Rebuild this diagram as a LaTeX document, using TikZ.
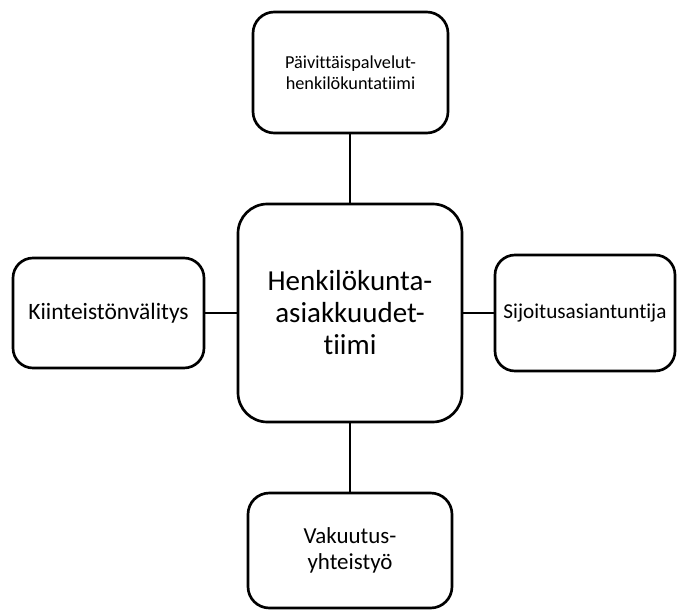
\documentclass[tikz,border=0pt]{standalone}
\usepackage{fontspec}
\setmainfont{Carlito}[Ligatures=NoCommon]
\begin{document}
\begin{tikzpicture}[x=0.75pt,y=-0.75pt,
  box/.style={draw=black,line width=2pt,fill=white,rounded corners=16pt,align=center,inner sep=0pt},
  link/.style={draw=black,line width=1.7pt}]
\useasboundingbox (0,0) rectangle (677,610);
\node[box,minimum width=146.25pt,minimum height=90.75pt,font=\fontsize{13.7}{15.5}\selectfont] (top) at (350.5,72.5) {Päivittäispalvelut-\\henkilökuntatiimi};
\node[box,rounded corners=22pt,minimum width=168pt,minimum height=163.5pt,font=\fontsize{21.75}{24}\selectfont] (mid) at (350,313) {Henkilökunta-\\asiakkuudet-\\tiimi};
\node[box,rounded corners=15pt,minimum width=143.25pt,minimum height=82.5pt,font=\fontsize{17.6}{20}\selectfont] (left) at (108.5,313) {Kiinteistönvälitys};
\node[box,rounded corners=15pt,minimum width=135pt,minimum height=87pt,font=\fontsize{15.9}{19}\selectfont] (right) at (585,313) {Sijoitusasiantuntija};
\node[box,minimum width=153pt,minimum height=86.25pt,font=\fontsize{17.2}{20}\selectfont] (bot) at (350,550.5) {Vakuutus-\\yhteistyö};
\draw[link] (mid.north) -- (mid.north |- top.south);
\draw[link] (mid.south) -- (mid.south |- bot.north);
\draw[link] (mid.west) -- (left.east);
\draw[link] (mid.east) -- (right.west);
\end{tikzpicture}
\end{document}
